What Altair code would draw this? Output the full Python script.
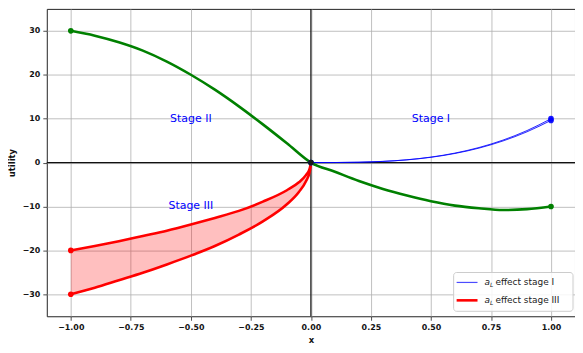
import altair as alt
import pandas as pd

# ---- data ----
green_x = [-1.0, -0.9, -0.8, -0.7, -0.6, -0.5, -0.4, -0.3, -0.2, -0.1, 0.0,
           0.1, 0.2, 0.3, 0.4, 0.5, 0.6, 0.7, 0.8, 0.9, 1.0]
green_y = [30.0, 28.9, 27.4, 25.5, 23.0, 20.0, 16.6, 12.8, 8.7, 4.4, 0.0,
           -2.1, -4.2, -6.0, -7.5, -8.8, -9.8, -10.4, -10.8, -10.6, -10.0]

blue_x = [0.0, 0.1, 0.2, 0.3, 0.4, 0.5, 0.6, 0.7, 0.8, 0.9, 1.0]
blue_hi = [0.0, 0.01, 0.08, 0.27, 0.64, 1.25, 2.16, 3.43, 5.12, 7.29, 10.0]
blue_lo = [0.0, 0.01, 0.08, 0.26, 0.61, 1.20, 2.07, 3.29, 4.92, 7.00, 9.6]

red_x = [-1.0, -0.9, -0.8, -0.7, -0.6, -0.5, -0.4, -0.3, -0.2, -0.1, -0.05, -0.02, -0.005, 0.0]
red_hi = [-20.0, -19.0, -17.9, -16.7, -15.5, -14.1, -12.6, -11.0, -8.9, -6.3, -4.5, -2.8, -1.4, 0.0]
red_lo = [-30.0, -28.5, -26.8, -25.1, -23.2, -21.2, -19.0, -16.4, -13.4, -9.5, -6.7, -4.2, -2.1, 0.0]

label_text = ["Stage I", "Stage II", "Stage III"]
label_x = [0.5, -0.5, -0.5]
label_y = [10, 10, -10]

x_ticks = [-1.0, -0.75, -0.5, -0.25, 0.0, 0.25, 0.5, 0.75, 1.0]
y_ticks = [-30, -20, -10, 0, 10, 20, 30]

FONT = "DejaVu Sans"

green_df = pd.DataFrame({"x": green_x, "y": green_y})
green_pts = pd.DataFrame({"x": [green_x[0], 0.0, green_x[-1]], "y": [green_y[0], 0.0, green_y[-1]]})
blue_band = pd.DataFrame({"x": blue_x, "y": blue_lo, "y2": blue_hi})
blue_lines = pd.concat([
    pd.DataFrame({"x": blue_x, "y": blue_hi, "s": "hi"}),
    pd.DataFrame({"x": blue_x, "y": blue_lo, "s": "lo"}),
])
blue_pts = pd.DataFrame({"x": [1.0, 1.0, 0.0], "y": [blue_hi[-1], blue_lo[-1], 0.0]})
red_band = pd.DataFrame({"x": red_x, "y": red_lo, "y2": red_hi})
red_lines = pd.concat([
    pd.DataFrame({"x": red_x, "y": red_hi, "s": "hi"}),
    pd.DataFrame({"x": red_x, "y": red_lo, "s": "lo"}),
])
red_pts = pd.DataFrame({"x": [-1.0, -1.0], "y": [red_hi[0], red_lo[0]]})
labels_df = pd.DataFrame({"x": label_x, "y": label_y, "t": label_text})

xscale = alt.Scale(domain=[-1.1, 1.1], nice=False, zero=False)
yscale = alt.Scale(domain=[-35, 35], nice=False, zero=False)
xaxis = alt.Axis(values=x_ticks, format=".2f", title="x", grid=True)
yaxis = alt.Axis(values=y_ticks, format="d", title="utility", grid=True,
                 titleX=-32, titleY=154.5, titleAngle=270, titleBaseline="alphabetic",
                 titleAlign="center")

X = alt.X("x:Q", scale=xscale, axis=xaxis)
Y = alt.Y("y:Q", scale=yscale, axis=yaxis)

base_grid = alt.Chart(green_df).mark_point(opacity=0).encode(x=X, y=Y)

zero_h = alt.Chart(pd.DataFrame({"y": [0]})).mark_rule(color="#111", strokeWidth=1.2).encode(y=Y)
zero_v = alt.Chart(pd.DataFrame({"x": [0]})).mark_rule(color="#111", strokeWidth=1.2).encode(x=X)

red_area = alt.Chart(red_band).mark_area(color="red", opacity=0.25, interpolate="monotone").encode(x=X, y=Y, y2="y2:Q")
blue_area = alt.Chart(blue_band).mark_area(color="blue", opacity=0.2, interpolate="monotone").encode(x=X, y=Y, y2="y2:Q")

red_line = alt.Chart(red_lines).mark_line(color="red", strokeWidth=2.6, interpolate="monotone").encode(x=X, y=Y, detail="s:N")
blue_line = alt.Chart(blue_lines).mark_line(color="blue", strokeWidth=1.0, opacity=0.8, interpolate="monotone").encode(x=X, y=Y, detail="s:N")
green_line = alt.Chart(green_df).mark_line(color="green", strokeWidth=2.6, interpolate="monotone").encode(x=X, y=Y)

red_p = alt.Chart(red_pts).mark_circle(color="red", size=32, opacity=1).encode(x=X, y=Y)
green_p = alt.Chart(green_pts).mark_circle(color="green", size=32, opacity=1).encode(x=X, y=Y)
blue_p = alt.Chart(blue_pts).mark_circle(color="blue", size=32, opacity=0.9).encode(x=X, y=Y)
origin_p = alt.Chart(pd.DataFrame({"x": [0.0], "y": [0.0]})).mark_circle(color="#1a1a1a", size=30, opacity=1).encode(x=X, y=Y)

labels = alt.Chart(labels_df).mark_text(color="blue", fontSize=11, font=FONT).encode(x=X, y=Y, text="t:N")

# ---- legend (drawn in pixel space of the plot area) ----
one = pd.DataFrame({"a": [0]})
leg_box = alt.Chart(one).mark_rect(fill="white", fillOpacity=0.85, stroke="#cccccc", strokeWidth=1,
                                   cornerRadius=3).encode(
    x=alt.value(409), x2=alt.value(529), y=alt.value(265), y2=alt.value(304))
leg_blue = alt.Chart(one).mark_rule(color="blue", strokeWidth=1.2, opacity=0.7).encode(
    x=alt.value(412), x2=alt.value(433), y=alt.value(275))
leg_red = alt.Chart(one).mark_rule(color="red", strokeWidth=2.6).encode(
    x=alt.value(412), x2=alt.value(433), y=alt.value(293))


def leg_text(y, rest):
    a = alt.Chart(one).mark_text(font=FONT, fontSize=9, fontStyle="italic", align="left",
                                 baseline="middle", color="#222").encode(
        x=alt.value(440), y=alt.value(y), text=alt.value("a"))
    sub = alt.Chart(one).mark_text(font=FONT, fontSize=6, fontStyle="italic", align="left",
                                   baseline="middle", color="#222").encode(
        x=alt.value(445.5), y=alt.value(y + 3), text=alt.value("L"))
    r = alt.Chart(one).mark_text(font=FONT, fontSize=9, align="left",
                                 baseline="middle", color="#222").encode(
        x=alt.value(451), y=alt.value(y), text=alt.value(rest))
    return a + sub + r


chart = alt.layer(
    base_grid, zero_h, zero_v, red_area, blue_area, red_line, blue_line, green_line,
    red_p, green_p, blue_p, origin_p, labels,
    leg_box, leg_blue, leg_red,
    leg_text(275, "effect stage I"), leg_text(293, "effect stage III"),
).properties(
    width=531, height=309,
    autosize=alt.AutoSizeParams(type="none"),
    padding={"left": 39, "top": 0, "right": 0, "bottom": 28},
).configure_view(
    stroke="#222", strokeWidth=1
).configure_axis(
    domain=False, gridColor="#b0b0b0", gridWidth=0.8, tickColor="#222", tickSize=4,
    tickWidth=0.8, labelFont=FONT, labelFontSize=8, labelFontWeight="bold", labelColor="#111",
    labelPadding=3, titleFont=FONT, titleFontSize=8.5, titleFontWeight="bold", titleColor="#111",
    titlePadding=4
)

chart.save("out.html", embed_options={"renderer": "svg", "actions": False})
